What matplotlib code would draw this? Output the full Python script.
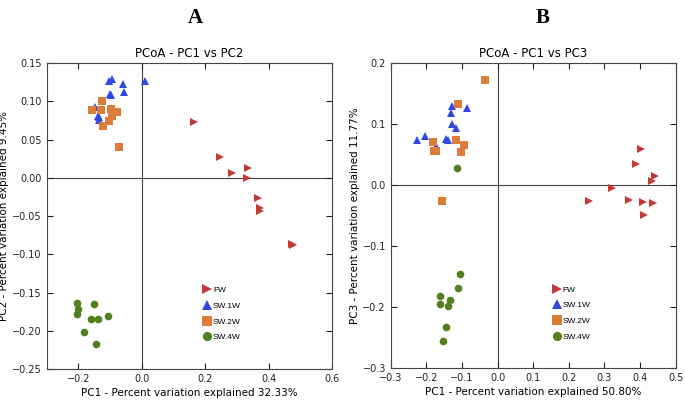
import matplotlib
matplotlib.use("Agg")
import matplotlib.pyplot as plt

# group colours / markers
groups = ['FW', 'SW.1W', 'SW.2W', 'SW.4W']
colors = ['#c43b35', '#3049e4', '#dd7b3a', '#51801f']
markers = ['>', '^', 's', 'o']

# Panel A: PC1 vs PC2
fw_pc1_a = [0.165, 0.246, 0.334, 0.285, 0.330, 0.366, 0.373, 0.372, 0.473, 0.475]
fw_pc2_a = [0.073, 0.027, 0.013, 0.006, 0.000, -0.026, -0.040, -0.043, -0.086, -0.088]
sw1_pc1_a = [-0.093, -0.103, -0.060, 0.009, -0.057, -0.100, -0.098, -0.148, -0.137, -0.135, -0.134]
sw1_pc2_a = [0.129, 0.126, 0.122, 0.126, 0.112, 0.109, 0.108, 0.092, 0.081, 0.075, 0.079]
sw2_pc1_a = [-0.125, -0.158, -0.130, -0.097, -0.079, -0.093, -0.104, -0.122, -0.072]
sw2_pc2_a = [0.101, 0.088, 0.088, 0.090, 0.086, 0.081, 0.074, 0.068, 0.040]
sw4_pc1_a = [-0.205, -0.152, -0.202, -0.206, -0.161, -0.139, -0.107, -0.184, -0.145]
sw4_pc2_a = [-0.164, -0.165, -0.172, -0.178, -0.185, -0.185, -0.181, -0.201, -0.217]

# Panel B: PC1 vs PC3
fw_pc1_b = [0.403, 0.389, 0.443, 0.434, 0.321, 0.258, 0.368, 0.407, 0.435, 0.412]
fw_pc3_b = [0.059, 0.034, 0.015, 0.006, -0.005, -0.027, -0.025, -0.028, -0.029, -0.049]
sw1_pc1_b = [-0.127, -0.086, -0.130, -0.129, -0.117, -0.144, -0.139, -0.225, -0.205, -0.173, -0.172]
sw1_pc3_b = [0.129, 0.126, 0.117, 0.100, 0.093, 0.076, 0.074, 0.073, 0.080, 0.063, 0.058]
sw2_pc1_b = [-0.034, -0.110, -0.118, -0.094, -0.103, -0.181, -0.179, -0.173, -0.155]
sw2_pc3_b = [0.171, 0.133, 0.073, 0.066, 0.054, 0.070, 0.055, 0.056, -0.027]
sw4_pc1_b = [-0.113, -0.105, -0.112, -0.162, -0.133, -0.161, -0.139, -0.146, -0.153]
sw4_pc3_b = [0.027, -0.146, -0.168, -0.181, -0.188, -0.194, -0.198, -0.232, -0.255]

panel_a = [(fw_pc1_a, fw_pc2_a), (sw1_pc1_a, sw1_pc2_a), (sw2_pc1_a, sw2_pc2_a), (sw4_pc1_a, sw4_pc2_a)]
panel_b = [(fw_pc1_b, fw_pc3_b), (sw1_pc1_b, sw1_pc3_b), (sw2_pc1_b, sw2_pc3_b), (sw4_pc1_b, sw4_pc3_b)]

fig = plt.figure(figsize=(6.85, 4.01), dpi=100)
axA = fig.add_axes([0.0682, 0.0798, 0.417, 0.763])
axB = fig.add_axes([0.5704, 0.0815, 0.416, 0.762])


def draw(ax, data, title, xlabel, ylabel, xlim, ylim, xticks, yticks, yfmt, legpos):
    ax.axhline(0, color='#444444', lw=0.8, zorder=0)
    ax.axvline(0, color='#444444', lw=0.8, zorder=0)
    for (xs, ys), g, c, m in zip(data, groups, colors, markers):
        ax.plot(xs, ys, linestyle='none', marker=m, color=c, markersize=5.5,
                markeredgewidth=0, label=g)
    ax.set_xlim(xlim)
    ax.set_ylim(ylim)
    ax.set_xticks(xticks)
    ax.set_yticks(yticks)
    ax.set_yticklabels([yfmt.format(v).replace('-', '\u2212') for v in yticks])
    ax.set_xticklabels([('%.1f' % v).replace('-', '\u2212') for v in xticks])
    ax.tick_params(direction='in', top=True, right=True, length=4, width=0.8,
                   labelsize=7, colors='#222222')
    for s in ax.spines.values():
        s.set_color('#444444')
        s.set_linewidth(0.8)
    ax.set_title(title, fontsize=8.5, pad=4)
    ax.set_xlabel(xlabel, fontsize=7.5, labelpad=3)
    ax.set_ylabel(ylabel, fontsize=7.5, labelpad=2)
    ax.legend(loc='upper left', bbox_to_anchor=legpos, frameon=False,
              markerscale=1.2, handletextpad=0.1, labelspacing=0.95,
              handlelength=1.2, prop={'family': 'Liberation Sans', 'size': 6})


draw(axA, panel_a, 'PCoA - PC1 vs PC2', 'PC1 - Percent variation explained 32.33%',
     'PC2 - Percent variation explained 9.45%', (-0.3, 0.6), (-0.25, 0.15),
     [-0.2, 0.0, 0.2, 0.4, 0.6], [0.15, 0.10, 0.05, 0.0, -0.05, -0.10, -0.15, -0.20, -0.25],
     '{:.2f}', (0.518, 0.295))
draw(axB, panel_b, 'PCoA - PC1 vs PC3', 'PC1 - Percent variation explained 50.80%',
     'PC3 - Percent variation explained 11.77%', (-0.3, 0.5), (-0.3, 0.2),
     [-0.3, -0.2, -0.1, 0.0, 0.1, 0.2, 0.3, 0.4, 0.5], [0.2, 0.1, 0.0, -0.1, -0.2, -0.3],
     '{:.1f}', (0.538, 0.295))

fig.text(195 / 685, 1 - 18 / 401, 'A', fontsize=15, fontweight='bold',
         family='Liberation Serif', ha='center', va='center')
fig.text(543 / 685, 1 - 18 / 401, 'B', fontsize=15, fontweight='bold',
         family='Liberation Serif', ha='center', va='center')

fig.savefig('out.png', dpi=100)
